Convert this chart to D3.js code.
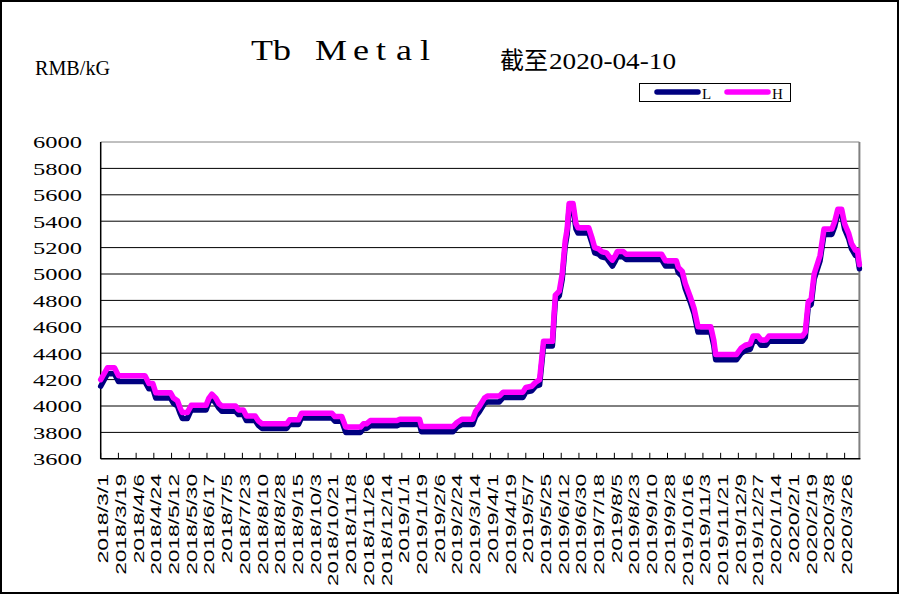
<!DOCTYPE html>
<html><head><meta charset="utf-8">
<script src="https://cdn.jsdelivr.net/npm/d3@7"></script>
<style>html,body{margin:0;padding:0;background:#fff;}svg{display:block;}</style>
</head><body>
<script>
const dates = ["2018/3/1","2018/3/8","2018/3/15","2018/3/19","2018/4/15","2018/4/19","2018/4/23","2018/4/26","2018/5/11","2018/5/14",
"2018/5/18","2018/5/21","2018/5/23","2018/5/28","2018/6/1","2018/6/16","2018/6/19","2018/6/22","2018/6/26","2018/6/29",
"2018/7/2","2018/7/16","2018/7/19","2018/7/24","2018/7/27","2018/8/5","2018/8/8","2018/8/12","2018/9/6","2018/9/9",
"2018/9/18","2018/9/21","2018/10/22","2018/10/25","2018/11/1","2018/11/5","2018/11/20","2018/11/23","2018/11/26","2018/11/30",
"2018/12/27","2018/12/30","2019/1/19","2019/1/21","2019/2/22","2019/2/26","2019/3/3","2019/3/14","2019/3/17","2019/3/21",
"2019/3/26","2019/3/29","2019/4/10","2019/4/14","2019/5/4","2019/5/7","2019/5/13","2019/5/17","2019/5/21","2019/5/25",
"2019/6/3","2019/6/6","2019/6/10","2019/6/13","2019/6/16","2019/6/18","2019/6/20","2019/6/24","2019/6/27","2019/6/29",
"2019/7/10","2019/7/13","2019/7/16","2019/7/20","2019/7/23","2019/7/28","2019/7/31","2019/8/3","2019/8/6","2019/8/8",
"2019/8/14","2019/8/17","2019/9/22","2019/9/26","2019/10/7","2019/10/9","2019/10/13","2019/10/16","2019/10/21","2019/10/25",
"2019/10/29","2019/11/11","2019/11/14","2019/11/16","2019/12/7","2019/12/9","2019/12/12","2019/12/16","2019/12/21","2019/12/24",
"2019/12/29","2020/1/1","2020/1/6","2020/1/9","2020/2/12","2020/2/15","2020/2/18","2020/2/21","2020/2/24","2020/3/1",
"2020/3/5","2020/3/13","2020/3/16","2020/3/19","2020/3/23","2020/3/26","2020/3/30","2020/4/2","2020/4/6","2020/4/8",
"2020/4/10"];
const highValues = [4200,4290,4290,4230,4230,4170,4170,4100,4100,4060,
4040,3980,3950,3950,4005,4005,4060,4090,4060,4020,
4000,4000,3970,3970,3925,3925,3890,3865,3865,3895,
3895,3945,3945,3920,3920,3840,3840,3865,3865,3890,
3890,3900,3900,3845,3845,3875,3900,3900,3960,4000,
4060,4075,4075,4105,4105,4140,4150,4180,4200,4490,
4490,4840,4870,5000,5250,5340,5535,5535,5380,5350,
5350,5280,5200,5190,5170,5160,5130,5105,5140,5170,
5170,5150,5150,5100,5100,5050,5020,4930,4830,4740,
4600,4600,4500,4390,4390,4410,4440,4460,4470,4530,
4530,4500,4500,4530,4530,4560,4790,4810,5000,5140,
5340,5340,5400,5490,5490,5380,5310,5230,5180,5180,
5070];
const lowValues = [4150,4245,4245,4185,4185,4130,4130,4060,4060,4020,
4000,3940,3905,3905,3970,3970,4030,4060,4020,3985,
3960,3960,3935,3935,3890,3890,3855,3830,3830,3860,
3860,3910,3910,3885,3885,3800,3800,3830,3830,3850,
3850,3860,3860,3805,3805,3840,3860,3860,3920,3960,
4020,4030,4030,4065,4065,4105,4115,4150,4160,4455,
4455,4800,4835,4960,5210,5300,5500,5500,5340,5310,
5310,5240,5160,5150,5130,5120,5090,5060,5100,5130,
5130,5110,5110,5060,5060,5010,4980,4890,4790,4700,
4560,4560,4460,4350,4350,4370,4400,4420,4430,4490,
4490,4460,4460,4490,4490,4520,4750,4770,4960,5100,
5300,5300,5360,5455,5455,5340,5270,5190,5140,5140,
5040];
const yTicks = [3600,3800,4000,4200,4400,4600,4800,5000,5200,5400,5600,5800,6000];
const xTickLabels = ["2018/3/1","2018/3/19","2018/4/6","2018/4/24","2018/5/12","2018/5/30","2018/6/17","2018/7/5","2018/7/23","2018/8/10",
"2018/8/28","2018/9/15","2018/10/3","2018/10/21","2018/11/8","2018/11/26","2018/12/14","2019/1/1","2019/1/19","2019/2/6",
"2019/2/24","2019/3/14","2019/4/1","2019/4/19","2019/5/7","2019/5/25","2019/6/12","2019/6/30","2019/7/18","2019/8/5",
"2019/8/23","2019/9/10","2019/9/28","2019/10/16","2019/11/3","2019/11/21","2019/12/9","2019/12/27","2020/1/14","2020/2/1",
"2020/2/19","2020/3/8","2020/3/26"];
const seriesNames = ["L","H"];
const seriesColors = ["#000080","#FF00FF"];

(function () {
const W = 901, H = 595;
const parse = d3.utcParse("%Y/%m/%d");
const svg = d3.select("body").append("svg").attr("width", W).attr("height", H);
svg.append("rect").attr("width", W).attr("height", H).attr("fill", "#fff");
svg.append("rect").attr("x",1).attr("y",1).attr("width",897).attr("height",592)
  .attr("fill","none").attr("stroke","#000").attr("stroke-width",2);

const pL = 100.7, pR = 859.4, pT = 142, pB = 458.8;
const x = d3.scaleUtc().domain([parse("2018/3/1"), parse("2020/4/10")]).range([pL, pR]);
const y = d3.scaleLinear().domain([3600, 6000]).range([pB, pT]);

svg.append("g").selectAll("line").data(yTicks.filter(v => v > 3600 && v < 6000)).join("line")
  .attr("x1", pL).attr("x2", pR).attr("y1", d => y(d)).attr("y2", d => y(d))
  .attr("stroke", "#000").attr("stroke-width", 1);
svg.append("line").attr("x1", pL).attr("x2", pR).attr("y1", pT).attr("y2", pT).attr("stroke", "#808080").attr("stroke-width", 1);
svg.append("line").attr("x1", pR).attr("x2", pR).attr("y1", pT).attr("y2", pB).attr("stroke", "#808080").attr("stroke-width", 2);

svg.append("g").selectAll("text").data(yTicks).join("text")
  .attr("x", 82).attr("y", d => y(d)).attr("dy", "0.36em")
  .attr("text-anchor", "end")
  .attr("font-family", "'Liberation Serif', 'Times New Roman', serif")
  .attr("font-size", 17.5)
  .attr("textLength", 49).attr("lengthAdjust", "spacingAndGlyphs")
  .attr("fill", "#000").text(d => d);

const xt = xTickLabels.map(s => ({s, d: parse(s)}));
svg.append("g").selectAll("line").data(xt).join("line")
  .attr("x1", d => x(d.d)).attr("x2", d => x(d.d))
  .attr("y1", pB).attr("y2", pB - 6)
  .attr("stroke", "#000").attr("stroke-width", 1);
svg.append("g").selectAll("text").data(xt).join("text")
  .attr("transform", d => `translate(${x(d.d) + 2},474) rotate(-90)`)
  .attr("text-anchor", "end").attr("dy", "0.36em")
  .attr("font-family", "'Liberation Sans', Arial, sans-serif")
  .attr("font-size", 15)
  .attr("textLength", d => d.s.length * 11.2).attr("lengthAdjust", "spacingAndGlyphs")
  .attr("fill", "#000").text(d => d.s);

svg.append("line").attr("x1", pL).attr("x2", pL).attr("y1", pT).attr("y2", pB).attr("stroke", "#000").attr("stroke-width", 1.5);
svg.append("line").attr("x1", pL).attr("x2", pR + 1).attr("y1", pB).attr("y2", pB).attr("stroke", "#000").attr("stroke-width", 1.5);

const lowData = dates.map((d, i) => ({d: parse(d), v: lowValues[i]}));
const highData = dates.map((d, i) => ({d: parse(d), v: highValues[i]}));
const line = d3.line().x(p => x(p.d)).y(p => y(p.v));
[lowData, highData].forEach((data, i) => {
  svg.append("path").datum(data).attr("d", line)
    .attr("fill", "none").attr("stroke", seriesColors[i]).attr("stroke-width", 5.5)
    .attr("stroke-linejoin", "round").attr("stroke-linecap", "round");
});

// title: one glyph per cell, glyphs widened
svg.append("g").attr("transform", "translate(250,0) scale(1.2,1)")
  .append("text").attr("x", "10 26.7 67.5 92.5 109.2 128.3 145.8").attr("y", 60)
  .attr("text-anchor", "middle")
  .attr("font-family", "'Liberation Serif', serif").attr("font-size", 30)
  .attr("fill", "#000").text("TbMetal");
svg.append("text").attr("x", 35).attr("y", 75)
  .attr("font-family", "'Liberation Serif', serif").attr("font-size", 20)
  .attr("textLength", 75).attr("lengthAdjust", "spacingAndGlyphs")
  .attr("fill", "#000").text("RMB/kG");
svg.append("text").attr("x", 500).attr("y", 69)
  .attr("font-family", "'Noto Sans CJK SC', sans-serif").attr("font-size", 24)
  .attr("fill", "#000").text("截至");
svg.append("text").attr("x", 549).attr("y", 69)
  .attr("font-family", "'Liberation Serif', serif").attr("font-size", 24)
  .attr("textLength", 127).attr("lengthAdjust", "spacingAndGlyphs")
  .attr("fill", "#000").text("2020-04-10");

const lg = svg.append("g");
lg.append("rect").attr("x", 639.5).attr("y", 83.5).attr("width", 151).attr("height", 18)
  .attr("fill", "#fff").attr("stroke", "#000").attr("stroke-width", 1);
const legX = [657, 727];
seriesNames.forEach((n, i) => {
  lg.append("line").attr("x1", legX[i]).attr("x2", legX[i] + 41).attr("y1", 92).attr("y2", 92)
    .attr("stroke", seriesColors[i]).attr("stroke-width", 5.5).attr("stroke-linecap", "round");
  lg.append("text").attr("x", legX[i] + 45).attr("y", 99)
    .attr("font-family", "'Liberation Serif', serif").attr("font-size", 15)
    .attr("fill", "#000").text(n);
});
})();
</script>
</body></html>
